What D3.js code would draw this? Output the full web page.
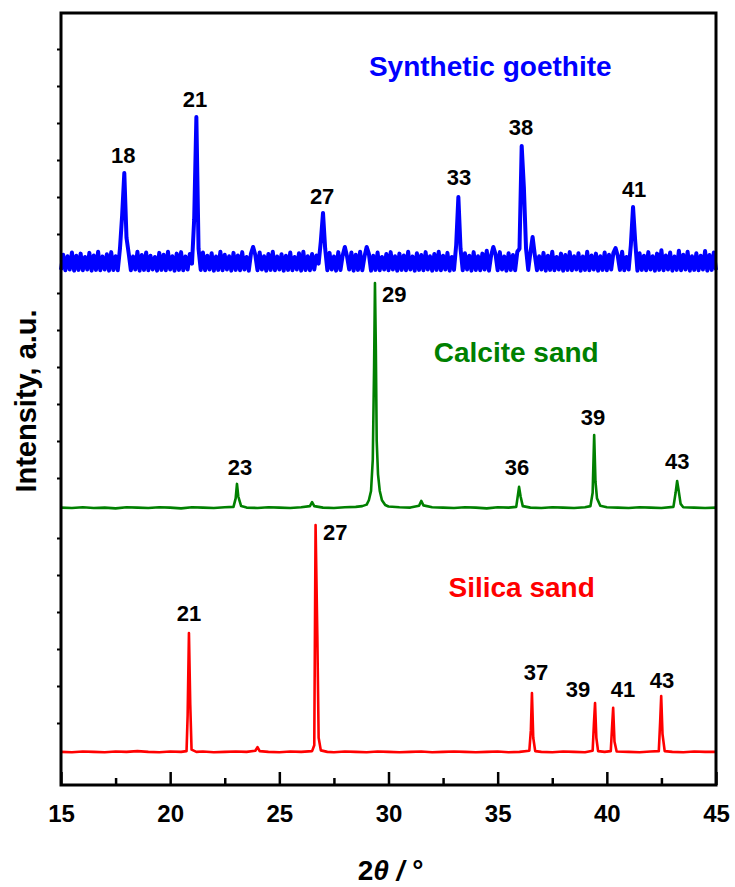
<!DOCTYPE html>
<html>
<head>
<meta charset="utf-8">
<script src="https://cdn.jsdelivr.net/npm/d3@7"></script>
<style>
body { margin: 0; background: #fff; }
text { font-family: Arial, "Liberation Sans", sans-serif; }
</style>
</head>
<body>
<div id="chart"></div>
<script>
// XRD scans, counts (a.u.)

// goethite scan: one count per 0.1 deg step, 15.0 .. 45.0 (very noisy baseline)
var goethiteStart = 15, goethiteStep = 0.1;
var goethiteCounts = [
    3, 44, 2, 40, 4, 50, 1, 41, 3, 47,           // 15
    2, 38, 4, 49, 1, 42, 3, 52, 2, 39,           // 16
    4, 45, 1, 51, 3, 40, 2, 60, 150, 265,        // 17
    90, 48, 2, 39, 4, 52, 1, 43, 3, 50,          // 18
    2, 41, 4, 38, 1, 49, 3, 44, 2, 52,           // 19
    4, 40, 1, 47, 3, 51, 2, 39, 4, 46,           // 20
    20, 140, 416, 60, 3, 50, 2, 41, 4, 48,       // 21
    1, 39, 3, 52, 2, 44, 4, 40, 1, 49,           // 22
    3, 42, 2, 51, 4, 38, 1, 47, 65, 43,          // 23
    2, 50, 4, 40, 1, 46, 3, 52, 2, 39,           // 24
    4, 45, 1, 41, 3, 50, 2, 38, 4, 48,           // 25
    1, 52, 3, 40, 2, 46, 4, 42, 20, 80,          // 26
    157, 60, 2, 49, 4, 39, 1, 51, 3, 42,         // 27
    65, 40, 4, 50, 1, 44, 3, 52, 2, 39,          // 28
    65, 47, 1, 41, 3, 50, 2, 38, 4, 46,          // 29
    2, 51, 4, 40, 1, 47, 3, 42, 2, 52,           // 30
    4, 39, 1, 48, 3, 43, 2, 51, 4, 40,           // 31
    1, 46, 3, 52, 2, 41, 4, 49, 1, 38,           // 32
    3, 70, 200, 60, 2, 48, 4, 41, 1, 51,         // 33
    3, 40, 2, 47, 4, 55, 1, 42, 65, 46,          // 34
    2, 51, 4, 39, 1, 48, 3, 43, 2, 52,           // 35
    60, 338, 227, 60, 3, 50, 92, 44, 2, 40,      // 36
    4, 49, 1, 41, 3, 52, 2, 38, 4, 47,           // 37
    1, 43, 3, 51, 2, 40, 4, 48, 1, 39,           // 38
    3, 52, 2, 42, 4, 47, 1, 40, 3, 50,           // 39
    2, 44, 4, 49, 62, 41, 3, 52, 2, 38,          // 40
    4, 70, 173, 80, 1, 48, 3, 41, 2, 51,         // 41
    4, 40, 1, 47, 3, 56, 2, 42, 4, 50,           // 42
    1, 39, 3, 55, 2, 44, 4, 52, 1, 40,           // 43
    3, 48, 2, 41, 4, 54, 1, 43, 3, 50,           // 44
    3
];

// calcite sand: [2theta, counts]
var calcitePoints = [
    [15.0,20],[15.5,19],[16.0,21],[16.5,19],[17.0,20],[17.5,18],[18.0,21],[18.5,20],
    [19.0,19],[19.5,21],[20.0,20],[20.5,18],[21.0,21],[21.5,20],[22.0,19],[22.5,21],
    [22.9,22],[23.0,45],[23.06,84],[23.12,50],[23.25,24],[23.5,20],[24.0,19],[24.5,21],
    [25.0,20],[25.5,19],[26.0,21],[26.4,24],[26.5,35],[26.6,24],[27.0,20],[27.5,19],
    [28.0,21],[28.5,22],[28.8,24],[29.0,28],[29.1,40],[29.2,65],[29.28,150],[29.34,400],
    [29.38,627],[29.42,450],[29.46,200],[29.52,110],[29.6,65],[29.7,40],[29.85,27],[30.0,23],
    [30.5,21],[31.0,20],[31.4,25],[31.5,38],[31.6,26],[32.0,21],[32.5,20],[33.0,19],
    [33.5,21],[34.0,20],[34.5,18],[35.0,21],[35.5,20],[35.85,22],[35.93,55],[35.98,76],
    [36.05,50],[36.15,24],[36.5,20],[37.0,19],[37.5,21],[38.0,20],[38.5,19],[39.0,21],
    [39.25,24],[39.35,60],[39.42,216],[39.48,90],[39.55,45],[39.7,25],[40.0,21],[40.5,20],
    [41.0,19],[41.5,21],[42.0,20],[42.5,19],[43.05,22],[43.15,60],[43.22,92],[43.28,70],
    [43.38,30],[43.5,21],[44.0,20],[44.5,19],[45.0,20]
];

// silica sand: [2theta, counts]
var silicaPoints = [
    [15.0,22],[15.5,21],[16.0,23],[16.5,22],[17.0,21],[17.5,23],[18.0,22],[18.5,24],
    [19.0,22],[19.5,21],[20.0,23],[20.5,22],[20.75,24],[20.8,120],[20.86,343],[20.92,150],
    [20.98,28],[21.2,22],[21.5,23],[22.0,21],[22.5,22],[23.0,23],[23.5,22],[23.9,25],
    [24.0,35],[24.1,24],[24.5,22],[25.0,21],[25.5,23],[26.0,22],[26.5,24],[26.6,40],
    [26.66,635],[26.74,338],[26.8,60],[26.9,26],[27.2,22],[27.5,21],[28.0,23],[28.5,22],
    [29.0,21],[29.5,23],[30.0,22],[30.5,21],[31.0,22],[31.5,23],[32.0,21],[32.5,22],
    [33.0,23],[33.5,22],[34.0,21],[34.5,22],[35.0,23],[35.5,21],[36.0,22],[36.45,25],
    [36.52,80],[36.57,181],[36.63,60],[36.72,24],[37.0,22],[37.5,21],[38.0,23],[38.5,22],
    [39.0,21],[39.35,25],[39.41,100],[39.46,154],[39.52,60],[39.6,24],[39.9,22],[40.18,24],
    [40.24,90],[40.29,141],[40.35,50],[40.45,23],[41.0,22],[41.5,21],[42.0,23],[42.38,24],
    [42.44,100],[42.49,173],[42.55,70],[42.65,24],[43.0,22],[43.5,21],[44.0,23],[44.5,22],
    [45.0,22]
];

// peak annotations: text, 2theta and count level of the label baseline
var goethiteLabels = ["18", "21", "27", "33", "38", "41"];
var goethiteLabelX = [17.85, 21.14, 26.96, 33.23, 36.07, 41.25];
var goethiteLabelY = [292, 443, 181, 232, 368, 200];

var calciteLabels = ["23", "29", "36", "39", "43"];
var calciteLabelX = [23.2, 29.7, 35.89, 39.37, 43.22];
var calciteLabelY = [108, 576, 108, 243, 124];

var silicaLabels = ["21", "27", "37", "39", "41", "43"];
var silicaLabelX = [20.86, 27.0, 36.76, 38.68, 40.74, 42.53];
var silicaLabelY = [376, 595, 216, 170, 170, 195];

var sampleNames = ["Synthetic goethite", "Calcite sand", "Silica sand"];
var sampleColors = ["#0000ff", "#008000", "#ff0000"];
var sampleNameX = [34.66, 35.85, 36.1];
var sampleNameY = [527, 413, 440];

var xTicks = [15, 20, 25, 30, 35, 40, 45];
var xMinorTicks = [17.5, 22.5, 27.5, 32.5, 37.5, 42.5];
var yTicks = [100, 200, 300, 400, 500, 600];

var W = 735, H = 887;
var plotLeft = 61, plotRight = 716, plotTop = 13, plotBottom = 785;

var svg = d3.select("#chart").append("svg")
    .attr("width", W)
    .attr("height", H);

var x = d3.scaleLinear().domain([15, 45]).range([plotLeft, plotRight]);

// one stacked panel per sample
var panelBase = [271, 515, 760];
var yScales = panelBase.map(function (b) {
    return d3.scaleLinear().domain([0, 700]).range([b, b - 259]);
});

var goethitePoints = goethiteCounts.map(function (c, i) {
    return [goethiteStart + i * goethiteStep, c];
});
var traces = [goethitePoints, calcitePoints, silicaPoints];
var traceWidth = [4, 2.6, 2.6];

var labelSets = [
    { t: goethiteLabels, x: goethiteLabelX, y: goethiteLabelY },
    { t: calciteLabels, x: calciteLabelX, y: calciteLabelY },
    { t: silicaLabels, x: silicaLabelX, y: silicaLabelY }
];

traces.forEach(function (pts, k) {
    var y = yScales[k];
    var line = d3.line()
        .x(function (d) { return x(d[0]); })
        .y(function (d) { return y(d[1]); });

    svg.append("path")
        .datum(pts)
        .attr("fill", "none")
        .attr("stroke", sampleColors[k])
        .attr("stroke-width", traceWidth[k])
        .attr("stroke-linejoin", "round")
        .attr("d", line);

    // left axis minor ticks of the panel (small, outside)
    svg.append("g")
        .attr("transform", "translate(" + plotLeft + ",0)")
        .call(d3.axisLeft(y).tickValues(yTicks).tickSizeInner(4).tickSizeOuter(0).tickFormat(""))
        .call(function (g) { g.select(".domain").remove(); })
        .selectAll("line").attr("stroke-width", 2);

    var ls = labelSets[k];
    svg.append("g").selectAll("text")
        .data(ls.t)
        .enter().append("text")
        .attr("x", function (d, i) { return x(ls.x[i]); })
        .attr("y", function (d, i) { return y(ls.y[i]); })
        .attr("text-anchor", function (d) { return (k == 1 && d == "29") || (k == 2 && d == "27") ? "start" : "middle"; })
        .attr("font-size", 22)
        .attr("font-weight", "bold")
        .attr("fill", "#000")
        .text(function (d) { return d; });

    svg.append("text")
        .attr("x", x(sampleNameX[k]))
        .attr("y", y(sampleNameY[k]))
        .attr("text-anchor", "middle")
        .attr("font-size", 28)
        .attr("font-weight", "bold")
        .attr("fill", sampleColors[k])
        .text(sampleNames[k]);
});

// bottom axis
var xAxis = svg.append("g")
    .attr("transform", "translate(0," + plotBottom + ")")
    .call(d3.axisBottom(x).tickValues(xTicks).tickSizeInner(-13).tickSizeOuter(0).tickPadding(20));
xAxis.select(".domain").remove();
xAxis.selectAll("line").attr("stroke-width", 2.5);
xAxis.selectAll("text")
    .attr("font-size", 24)
    .attr("font-weight", "bold")
    .attr("fill", "#000");

var xMinor = svg.append("g")
    .attr("transform", "translate(0," + plotBottom + ")")
    .call(d3.axisBottom(x).tickValues(xMinorTicks).tickSizeInner(-7).tickSizeOuter(0).tickFormat(""));
xMinor.select(".domain").remove();
xMinor.selectAll("line").attr("stroke-width", 2.5);

// frame
svg.append("rect")
    .attr("x", plotLeft)
    .attr("y", plotTop)
    .attr("width", plotRight - plotLeft)
    .attr("height", plotBottom - plotTop)
    .attr("fill", "none")
    .attr("stroke", "#000")
    .attr("stroke-width", 3);

// axis titles
var xt = svg.append("text")
    .attr("x", (plotLeft + plotRight) / 2 + 2)
    .attr("y", 880)
    .attr("text-anchor", "middle")
    .attr("font-size", 28)
    .attr("font-weight", "bold");
xt.append("tspan").text("2");
xt.append("tspan").attr("font-style", "italic").text("θ");
xt.append("tspan").attr("font-style", "italic").text(" / ");
xt.append("tspan").text("°");

svg.append("text")
    .attr("transform", "translate(36," + 401 + ") rotate(-90)")
    .attr("text-anchor", "middle")
    .attr("font-size", 29)
    .attr("font-weight", "bold")
    .text("Intensity, a.u.");
</script>
</body>
</html>
